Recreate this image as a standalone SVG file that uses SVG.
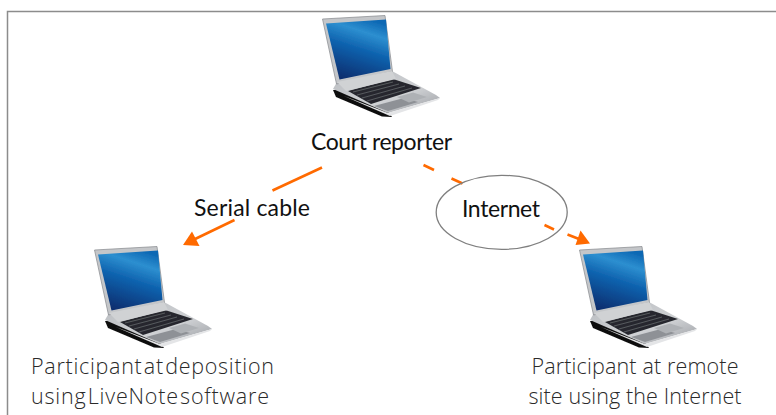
<svg xmlns="http://www.w3.org/2000/svg" width="776" height="415" viewBox="0 0 776 415">
<style>
.lbl{font-family:Lato,"Liberation Sans",sans-serif;font-size:23px;fill:#111}
.sub{font-family:"Open Sans","Noto Sans",sans-serif;font-size:21.500px;fill:#2a2a2a;font-weight:300}
.wire{fill:none;stroke:#ff6a00;stroke-width:2.600}
.head{fill:#ff6a00}
</style>
<defs>
<linearGradient id="scr" x1="0.7" y1="0" x2="0.35" y2="1">
<stop offset="0" stop-color="#0d68b4"/><stop offset="0.22" stop-color="#2d8fd0"/><stop offset="0.5" stop-color="#0e62ae"/><stop offset="1" stop-color="#0a2f70"/>
</linearGradient>
<linearGradient id="bas" x1="0" y1="0" x2="1" y2="1">
<stop offset="0" stop-color="#b9bcc0"/><stop offset="0.6" stop-color="#cfd1d4"/><stop offset="1" stop-color="#9a9da2"/>
</linearGradient>
<filter id="soft" x="-5%" y="-5%" width="110%" height="110%"><feGaussianBlur stdDeviation="0.7"/></filter>
<g id="laptop" filter="url(#soft)">
<path d="M333 90L336 97L382 116.500L392 117L388 111L340 90Z" fill="#111"/>
<path d="M333 89L388 113L440 98L436 95L392 71L337 82Z" fill="url(#bas)"/>
<path d="M344 96L388 113L440 98L438 100L390 116Z" fill="#e4e5e7"/>
<path d="M374 106L388 111L418 102L404 98Z" fill="#8e9196"/>
<path d="M322.500 19L385 15.500L392.500 71.500L336.500 84Z" fill="#c4c6c9" stroke="#85888c" stroke-width="0.700"/>
<path d="M326 23.500L386 19.500L390.500 69L339.500 79.500Z" fill="url(#scr)"/>
<path d="M348 91L393 79L421 88L371 104Z" fill="#26282d"/>
<path d="M353 92L393 82M357 95L399 84M362 98L405 86M367 101L412 88" stroke="#6d7076" stroke-width="0.700" fill="none"/>
<path d="M397 97L413 92.500L427 97L409 102.500Z" fill="#aeb1b5"/>
<path d="M337 82L392 71L396 79L346 91Z" fill="#d0d2d4"/>
</g>
</defs>
<path d="M7.500 415V11.500H776" fill="none" stroke="#8c8c8c" stroke-width="1.500"/>
<g id="connectors">
<path class="wire" d="M322 167.500L272.500 190.500"/>
<path class="wire" d="M234.500 220L193 240"/>
<path class="head" d="M183 245L192 231.500L199.500 246Z"/>
<path class="wire" d="M423.500 165L434 170M451.500 178.500L462.500 183.500M544.500 225L554 229.500M567.500 234.500L579 239"/>
<path class="head" d="M590 243.500L580.500 230.500L575.500 245Z"/>
</g>
<g id="court-reporter">
<use href="#laptop"/>
<text class="lbl" x="381.500" y="150" text-anchor="middle" textLength="141">Court reporter</text>
</g>
<g id="serial-cable"><text class="lbl" x="252" y="216" text-anchor="middle" textLength="116">Serial cable</text></g>
<g id="internet">
<ellipse cx="501.700" cy="212.300" rx="65.500" ry="37" fill="none" stroke="#7f7f7f" stroke-width="1.300"/>
<text class="lbl" x="501" y="217" text-anchor="middle" textLength="78">Internet</text>
</g>
<g id="participant-deposition">
<use href="#laptop" x="-228" y="231"/>
<text class="sub" x="31" y="374" word-spacing="-5" textLength="243">Participant at deposition</text>
<text class="sub" x="31" y="404" word-spacing="-5" textLength="238">using LiveNote software</text>
</g>
<g id="participant-remote">
<use href="#laptop" x="257" y="231"/>
<text class="sub" x="635" y="374" text-anchor="middle" textLength="207">Participant at remote</text>
<text class="sub" x="635" y="404" text-anchor="middle" textLength="213">site using the Internet</text>
</g>
</svg>
